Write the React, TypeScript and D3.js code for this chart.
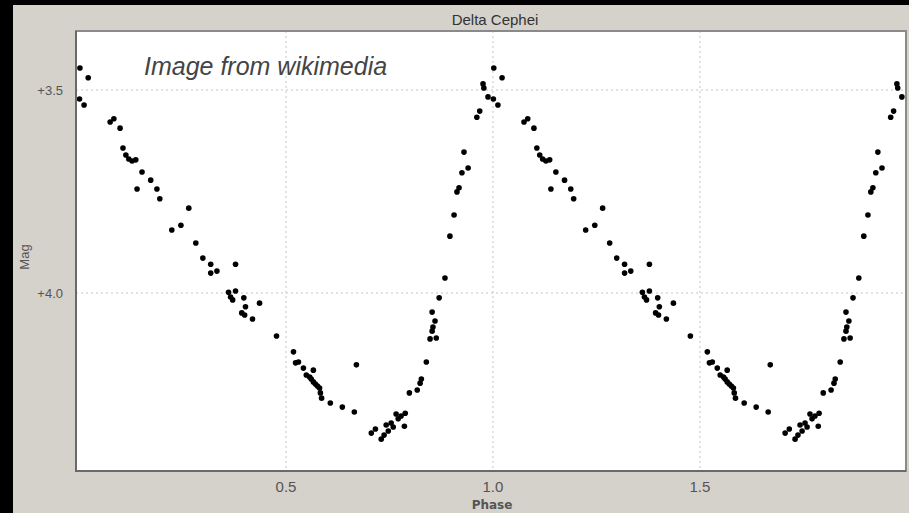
import React, { useRef, useEffect } from "react";
import { select, scaleLinear } from "d3";

// one pulsation cycle of Delta Cephei
const phase = [
  0.002, 0.022, 0.001, 0.012, 0.075, 0.084, 0.099, 0.106, 0.113, 0.12,
  0.128, 0.137, 0.152, 0.173, 0.14, 0.188, 0.195, 0.265, 0.224, 0.246,
  0.282, 0.299, 0.318, 0.318, 0.333, 0.378, 0.361, 0.378, 0.366, 0.371,
  0.398, 0.402, 0.393, 0.4, 0.436, 0.419, 0.477, 0.518, 0.523, 0.53,
  0.542, 0.566, 0.549, 0.557, 0.561, 0.566, 0.571, 0.576, 0.581, 0.583,
  0.586, 0.607, 0.636, 0.665, 0.67, 0.706, 0.716, 0.73, 0.737, 0.742,
  0.747, 0.754, 0.759, 0.766, 0.771, 0.778, 0.788, 0.786, 0.798, 0.817,
  0.824, 0.827, 0.839, 0.848, 0.863, 0.853, 0.855, 0.86, 0.853, 0.87,
  0.884, 0.896, 0.906, 0.913, 0.918, 0.925, 0.94, 0.93, 0.961, 0.968,
  0.976, 0.978, 0.988,
];
const mag = [
  3.446, 3.47, 3.522, 3.537, 3.579, 3.571, 3.594, 3.643, 3.66, 3.67,
  3.675, 3.672, 3.702, 3.722, 3.744, 3.744, 3.768, 3.791, 3.845, 3.833,
  3.877, 3.914, 3.929, 3.951, 3.946, 3.929, 3.998, 3.995, 4.01, 4.017,
  4.012, 4.034, 4.049, 4.054, 4.025, 4.064, 4.106, 4.145, 4.172, 4.17,
  4.185, 4.19, 4.202, 4.207, 4.212, 4.219, 4.224, 4.229, 4.234, 4.246,
  4.259, 4.271, 4.281, 4.293, 4.177, 4.345, 4.335, 4.36, 4.35, 4.325,
  4.34, 4.32, 4.33, 4.298, 4.31, 4.303, 4.296, 4.328, 4.246, 4.239,
  4.222, 4.212, 4.17, 4.113, 4.111, 4.094, 4.084, 4.069, 4.047, 4.012,
  3.963, 3.86, 3.808, 3.751, 3.741, 3.704, 3.692, 3.653, 3.567, 3.552,
  3.485, 3.495, 3.517,
];
// the curve is plotted over two cycles
const cycles = [0, 1];
const phaseTicks = [0.5, 1.0, 1.5];
const magTicks = [3.5, 4.0];
const chartTitle = "Delta Cephei";
const xLabel = "Phase";
const yLabel = "Mag";
const watermark = "Image from wikimedia";

function App() {
  const svgRef = useRef(null);

  useEffect(() => {
    const svg = select(svgRef.current);
    svg.selectAll("*").remove();

    const W = 909, H = 513;
    const left = 76, right = 906, top = 31, bottom = 471;
    const font = "Arial, 'Liberation Sans', sans-serif";

    const x = scaleLinear().domain([-0.0075, 1.998]).range([left, right]);
    const y = scaleLinear().domain([3.3547, 4.4384]).range([top, bottom]);

    svg.append("rect").attr("width", W).attr("height", H).attr("fill", "#000");
    svg.append("rect").attr("x", 13).attr("y", 5).attr("width", W - 13).attr("height", H - 5)
      .attr("fill", "#d5d1cb");

    svg.append("defs").append("clipPath").attr("id", "plot-clip")
      .append("rect").attr("x", left).attr("y", top)
      .attr("width", right - left).attr("height", bottom - top);

    svg.append("rect").attr("x", left).attr("y", top)
      .attr("width", right - left).attr("height", bottom - top)
      .attr("fill", "#fff");

    const grid = svg.append("g").attr("stroke", "#c4c4c4").attr("stroke-dasharray", "2,3");
    grid.selectAll(".vgrid").data(phaseTicks).join("line")
      .attr("class", "vgrid")
      .attr("x1", d => x(d)).attr("x2", d => x(d))
      .attr("y1", top).attr("y2", bottom);
    grid.selectAll(".hgrid").data(magTicks).join("line")
      .attr("class", "hgrid")
      .attr("y1", d => y(d)).attr("y2", d => y(d))
      .attr("x1", left).attr("x2", right);

    svg.append("text")
      .attr("x", 144).attr("y", 75)
      .attr("font-family", font)
      .attr("font-style", "italic")
      .attr("font-size", 25)
      .attr("fill", "#444")
      .text(watermark);

    const points = cycles.flatMap(c => phase.map((p, i) => ({ p: p + c, m: mag[i] })));
    svg.append("g").attr("clip-path", "url(#plot-clip)")
      .selectAll("circle").data(points).join("circle")
      .attr("cx", d => x(d.p))
      .attr("cy", d => y(d.m))
      .attr("r", 2.8)
      .attr("fill", "#000");

    // frame, darker on the left and bottom like the original window
    svg.append("rect").attr("x", left).attr("y", top)
      .attr("width", right - left).attr("height", bottom - top)
      .attr("fill", "none").attr("stroke", "#8a8a8a").attr("stroke-width", 2);
    svg.append("path")
      .attr("d", `M${left},${top}V${bottom}H${right}`)
      .attr("fill", "none").attr("stroke", "#6a6a6a").attr("stroke-width", 2);

    svg.append("text")
      .attr("x", 495).attr("y", 25)
      .attr("text-anchor", "middle")
      .attr("font-family", font).attr("font-size", 15)
      .attr("fill", "#333")
      .text(chartTitle);

    svg.selectAll(".ylab").data(magTicks).join("text")
      .attr("class", "ylab")
      .attr("x", 63).attr("y", d => y(d) + 5)
      .attr("text-anchor", "end")
      .attr("font-family", font).attr("font-size", 13)
      .attr("fill", "#555")
      .text(d => "+" + d.toFixed(1));

    svg.selectAll(".xlab").data(phaseTicks).join("text")
      .attr("class", "xlab")
      .attr("x", d => x(d)).attr("y", 492)
      .attr("text-anchor", "middle")
      .attr("font-family", font).attr("font-size", 15)
      .attr("fill", "#555")
      .text(d => d.toFixed(1));

    svg.append("text")
      .attr("x", 492).attr("y", 509)
      .attr("text-anchor", "middle")
      .attr("font-family", "'DejaVu Sans', sans-serif").attr("font-size", 12)
      .attr("font-weight", "bold")
      .attr("fill", "#555")
      .text(xLabel);

    svg.append("text")
      .attr("transform", "translate(29,257) rotate(-90)")
      .attr("text-anchor", "middle")
      .attr("font-family", font).attr("font-size", 13)
      .attr("fill", "#555")
      .text(yLabel);
  }, []);

  return (
    <svg ref={svgRef} width={909} height={513}
      style={{ position: "absolute", left: 0, top: 0, display: "block" }} />
  );
}

export default App;
